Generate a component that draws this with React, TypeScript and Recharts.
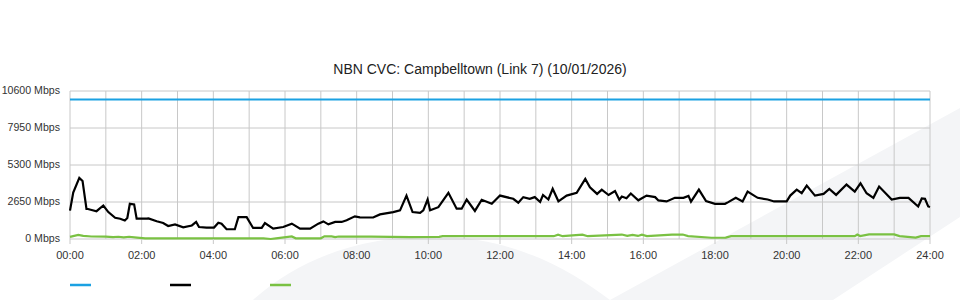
import React from "react";
import { LineChart, Line, XAxis, YAxis, CartesianGrid, Legend } from "recharts";

const title = "NBN CVC: Campbelltown (Link 7) (10/01/2026)";
const yTicks = [0, 2650, 5300, 7950, 10600];
const xTicks = [0, 2, 4, 6, 8, 10, 12, 14, 16, 18, 20, 22, 24];
const gridHours = [0, 1, 2, 3, 4, 5, 6, 7, 8, 9, 10, 11, 12, 13, 14, 15, 16, 17, 18, 19, 20, 21, 22, 23, 24];

const capacityTimes = [0, 24];
const capacityValues = [10000, 10000];

const trafficTimes = [
  0.0, 0.09, 0.26, 0.35, 0.46, 0.5, 0.74, 0.93, 1.07, 1.26, 1.4, 1.53, 1.6, 1.67, 1.79, 1.86, 2.14, 2.19,
  2.42, 2.6, 2.74, 2.93, 3.16, 3.4, 3.52, 3.6, 3.81, 4.02, 4.14, 4.23, 4.37, 4.6, 4.7, 4.93, 5.11, 5.35,
  5.44, 5.67, 5.95, 6.19, 6.42, 6.7, 6.93, 7.07, 7.21, 7.4, 7.58, 7.72, 7.95, 8.09, 8.46, 8.65, 9.02, 9.21,
  9.39, 9.56, 9.77, 9.86, 9.98, 10.05, 10.28, 10.56, 10.79, 10.93, 11.07, 11.3, 11.49, 11.77, 12.0, 12.37,
  12.51, 12.65, 12.83, 12.97, 13.12, 13.2, 13.35, 13.47, 13.63, 13.86, 14.14, 14.38, 14.51, 14.71, 14.84,
  15.03, 15.21, 15.33, 15.4, 15.53, 15.65, 15.86, 16.09, 16.33, 16.42, 16.65, 16.88, 17.12, 17.26, 17.33,
  17.55, 17.75, 18.0, 18.28, 18.37, 18.58, 18.77, 18.91, 19.19, 19.47, 19.65, 20.0, 20.1, 20.28, 20.42,
  20.56, 20.79, 21.03, 21.19, 21.38, 21.67, 21.9, 22.06, 22.23, 22.42, 22.58, 22.93, 23.16, 23.4, 23.67,
  23.77, 23.86, 23.95, 24.0,
];
const trafficValues = [
  2030, 3330, 4380, 4160, 2150, 2150, 1990, 2400, 1930, 1520, 1450, 1330, 1500, 2520, 2480, 1460, 1460, 1470,
  1270, 1150, 930, 1040, 830, 970, 1220, 860, 820, 820, 1170, 1100, 700, 700, 1570, 1570, 790, 790,
  1140, 740, 860, 1100, 740, 740, 1100, 1260, 1050, 1220, 1220, 1340, 1620, 1550, 1540, 1760, 1930, 2050,
  3110, 1930, 1870, 2050, 2830, 2050, 2280, 3310, 2170, 2170, 2830, 2010, 2810, 2530, 3110, 2880,
  2600, 3000, 2880, 3000, 2650, 3150, 2830, 3590, 2700, 3110, 3310, 4300, 3710, 3230, 3530,
  3150, 3440, 2810, 3040, 2920, 3260, 2770, 3110, 3000, 2760, 2690, 2950, 2950, 3090, 2680,
  3540, 2710, 2520, 2520, 2640, 2950, 2690, 3400, 2950, 2830, 2690, 2690, 3110, 3540, 3280,
  3830, 3110, 3230, 3580, 3160, 3900, 3400, 3990, 3280, 2950, 3760, 2830, 2950, 2950, 2330,
  2900, 2880, 2330, 2290,
];

const upTimes = [
  0.0, 0.23, 0.37, 0.6, 1.0, 1.2, 1.35, 1.5, 1.65, 1.87, 2.1, 2.8, 3.5, 4.5, 5.4, 5.6, 5.75, 6.19, 6.3,
  7.0, 7.1, 7.3, 7.4, 7.5, 8.4, 9.5, 10.3, 10.4, 12.0, 13.5, 13.62, 13.75, 14.3, 14.45, 15.4, 15.55, 15.7,
  15.85, 15.96, 16.1, 16.8, 17.1, 17.25, 17.9, 18.3, 18.45, 19.5, 20.5, 21.9, 21.97, 22.05, 22.3, 23.0,
  23.15, 23.6, 23.75, 24.0,
];
const upValues = [
  150, 290, 220, 180, 170, 130, 160, 120, 160, 100, 40, 40, 40, 40, 40, 0, 40, 180, 50,
  50, 190, 190, 140, 180, 170, 140, 150, 200, 200, 200, 310, 200, 310, 200, 320, 220, 300,
  220, 310, 210, 320, 320, 210, 90, 100, 210, 210, 210, 210, 320, 210, 330, 330,
  210, 100, 210, 210,
];

const seriesColors = ["#1ba1e2", "#000000", "#7ac143"];

const capacityData = capacityTimes.map((t, i) => ({ t, v: capacityValues[i] }));
const trafficData = trafficTimes.map((t, i) => ({ t, v: trafficValues[i] }));
const upData = upTimes.map((t, i) => ({ t, v: upValues[i] }));

const fontFamily = "'Liberation Sans', Arial, sans-serif";

const fmtHour = (h: number) => `${String(h).padStart(2, "0")}:00`;

const YTick = (props: any) => {
  const { x, y, payload } = props;
  return (
    <text x={x} y={y} dy={2.5} textAnchor="end" fontSize={10.6} fill="#333" fontFamily={fontFamily}>
      {`${payload.value} Mbps`}
    </text>
  );
};

const LegendContent = () => (
  <svg width={960} height={20} style={{ display: "block" }}>
    {seriesColors.map((c, i) => (
      <line key={i} x1={70 + i * 100} x2={91 + i * 100} y1={9} y2={9} stroke={c} strokeWidth={2.5} />
    ))}
  </svg>
);

export default function App() {
  return (
    <div style={{ position: "absolute", left: 0, top: 0, width: 960, height: 300, background: "#fff", overflow: "hidden" }}>
      <svg width={960} height={300} style={{ position: "absolute", left: 0, top: 0 }}>
        <path d="M 253 300 C 300 258 360 236 440 236 C 520 240 570 270 610 300 Z" fill="#f4f5f7" />
        <path d="M 610 300 L 960 108 L 960 217 L 833 300 Z" fill="#f4f5f7" />
      </svg>
      <div
        style={{
          position: "absolute",
          left: 0,
          top: 60,
          width: 960,
          textAlign: "center",
          fontFamily,
          fontSize: 14,
          color: "#222",
          lineHeight: "18px",
        }}
      >
        {title}
      </div>
      <div style={{ position: "absolute", left: 0, top: 0 }}>
        <LineChart width={960} height={300} margin={{ top: 91, right: 30, bottom: 31, left: 0 }}>
          <CartesianGrid
            stroke="#c8c8c8"
            verticalCoordinatesGenerator={({ offset }: any) =>
              gridHours.map((h) => offset.left + (h / 24) * offset.width)
            }
            horizontalValues={yTicks}
          />
          <XAxis
            type="number"
            dataKey="t"
            domain={[0, 24]}
            ticks={xTicks}
            tickFormatter={fmtHour}
            axisLine={false}
            tickLine={{ stroke: "#c8c8c8" }}
            tickSize={5}
            tickMargin={7}
            height={30}
            tick={{ fontSize: 11, fill: "#333", fontFamily }}
            allowDuplicatedCategory={false}
          />
          <YAxis
            type="number"
            domain={[0, 10600]}
            ticks={yTicks}
            axisLine={false}
            tickLine={false}
            tickSize={0}
            tickMargin={10}
            width={70}
            tick={<YTick />}
          />
          <Legend
            layout="horizontal"
            verticalAlign="middle"
            align="center"
            content={<LegendContent />}
            wrapperStyle={{ top: 276, left: 0, width: 960 }}
          />
          <Line data={capacityData} dataKey="v" name="Capacity" stroke={seriesColors[0]} strokeWidth={2} dot={false} isAnimationActive={false} />
          <Line data={trafficData} dataKey="v" name="Download" stroke={seriesColors[1]} strokeWidth={2.2} dot={false} isAnimationActive={false} />
          <Line data={upData} dataKey="v" name="Upload" stroke={seriesColors[2]} strokeWidth={2.2} dot={false} isAnimationActive={false} />
        </LineChart>
      </div>
    </div>
  );
}
